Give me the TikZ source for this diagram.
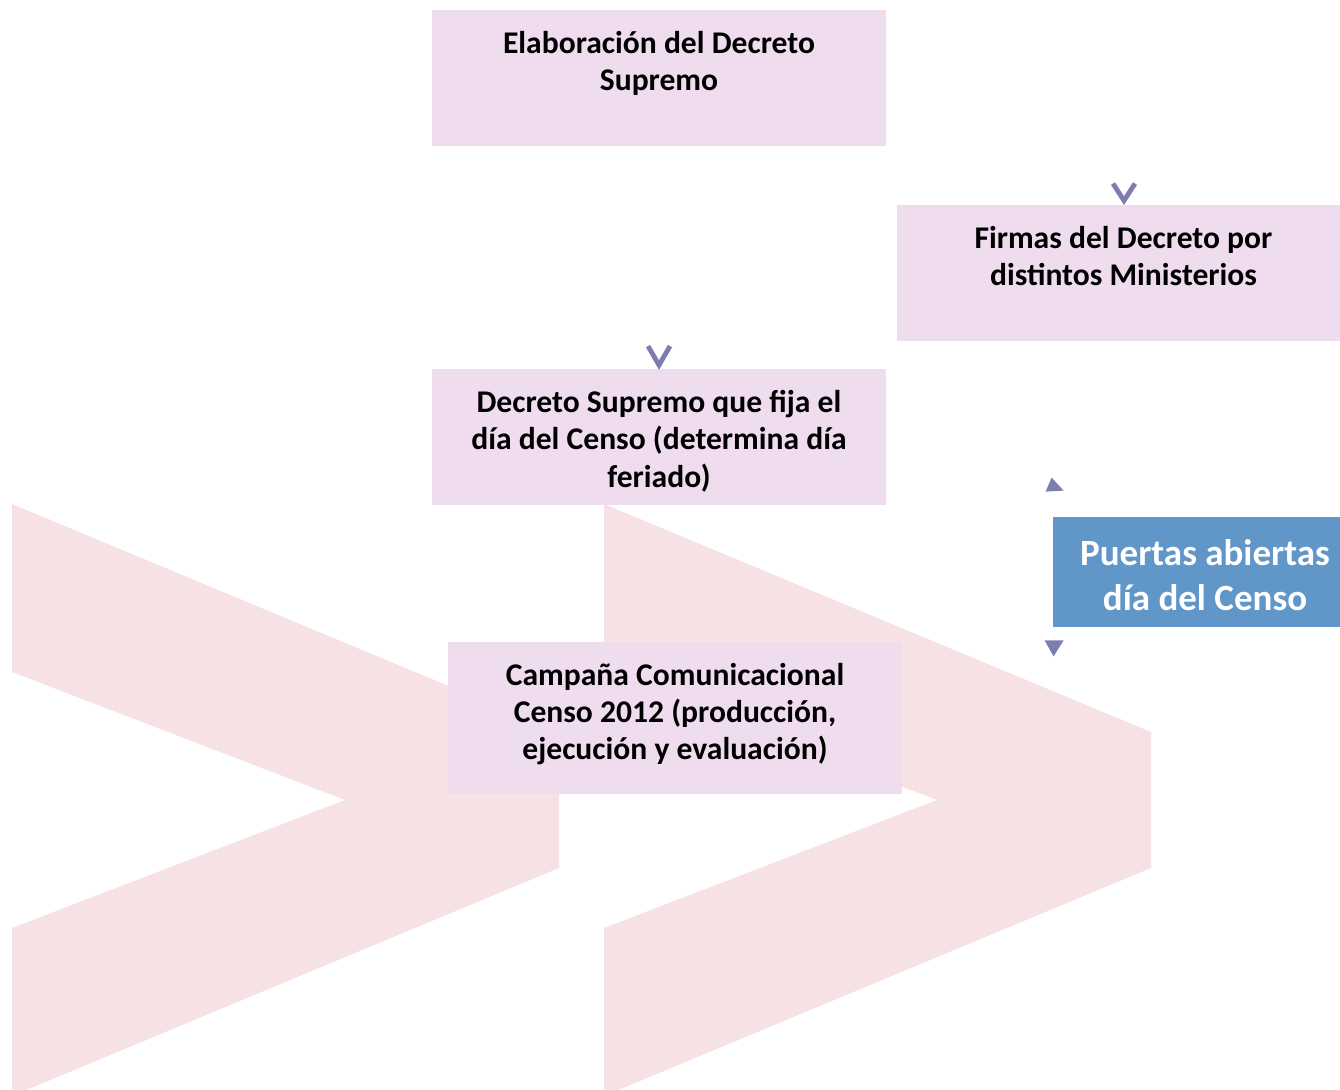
\documentclass[tikz,border=0pt]{standalone}
\usepackage{fontspec}
\setmainfont{Carlito}
\usetikzlibrary{positioning}
\definecolor{mlila}{RGB}{239,220,239}
\definecolor{mrosa}{RGB}{246,225,229}
\definecolor{mazul}{RGB}{96,150,200}
\definecolor{mgris}{RGB}{125,126,176}

\tikzset{
  caja/.style={fill=mlila, inner sep=0pt, minimum width=227pt, minimum height=68pt},
  textocaja/.style={inner sep=0pt, align=center, font=\bfseries\fontsize{15.8}{18.6}\selectfont},
  vmarca/.style={draw=mgris, line width=2.4pt}
}

\begin{document}
\begin{tikzpicture}[x=0.5pt, y=-0.5pt]

    \clip (0, 0) rectangle (1340, 1090);

    \fill [mrosa] (12, 504) -- (559, 732) -- (559, 868) -- (12, 1096) -- (12, 928) -- (345, 800) -- (12, 672) -- cycle;
    \begin{scope}[shift={(592, 0)}]
      \fill [mrosa] (12, 504) -- (559, 732) -- (559, 868) -- (12, 1096) -- (12, 928) -- (345, 800) -- (12, 672) -- cycle;
    \end{scope}

    \node [caja] (b1) at (659, 78) {};
    \node [textocaja, below=10.5pt of b1.north] (t1) {Elaboración del Decreto\\Supremo};

    \node [caja, minimum width=221.5pt] (b2) at (1118.5, 273) {};
    \node [textocaja, below=10.5pt of b2.north, xshift=2.5pt] (t2) {Firmas del Decreto por\\distintos Ministerios};

    \node [caja] (b3) at (659, 437.5) {};
    \node [textocaja, below=10.5pt of b3.north] (t3) {Decreto Supremo que fija el\\día del Censo (determina día\\feriado)};

    \node [caja, minimum height=76pt] (b4) at (675, 718) {};
    \node [textocaja, below=10.5pt of b4.north] (t4) {Campaña Comunicacional\\Censo 2012 (producción,\\ejecución y evaluación)};

    \node [fill=mazul, inner sep=0pt, minimum width=143.5pt, minimum height=55pt] (b5) at (1196.5, 572) {};
    \node [inner sep=0pt, align=center, text=white, font=\bfseries\fontsize{18.5}{22.5}\selectfont,
      below=11.2pt of b5.north, xshift=4.25pt] (t5) {Puertas abiertas\\día del Censo};

    \draw [vmarca] (b2.north) ++(-5.5, -21) -- ++(11, 17) -- ++(11, -17);
    \draw [vmarca] (b3.north) ++(-11, -23) -- ++(11, 19) -- ++(11, -19);

    \fill [mgris] (b5.north west) ++(-1, -39) -- ++(-6, 14) -- ++(18, -1) -- cycle;
    \fill [mgris] (b5.south west) ++(-8, 13) -- ++(19, 0) -- ++(-10, 16) -- cycle;

  \end{tikzpicture}
\end{document}
